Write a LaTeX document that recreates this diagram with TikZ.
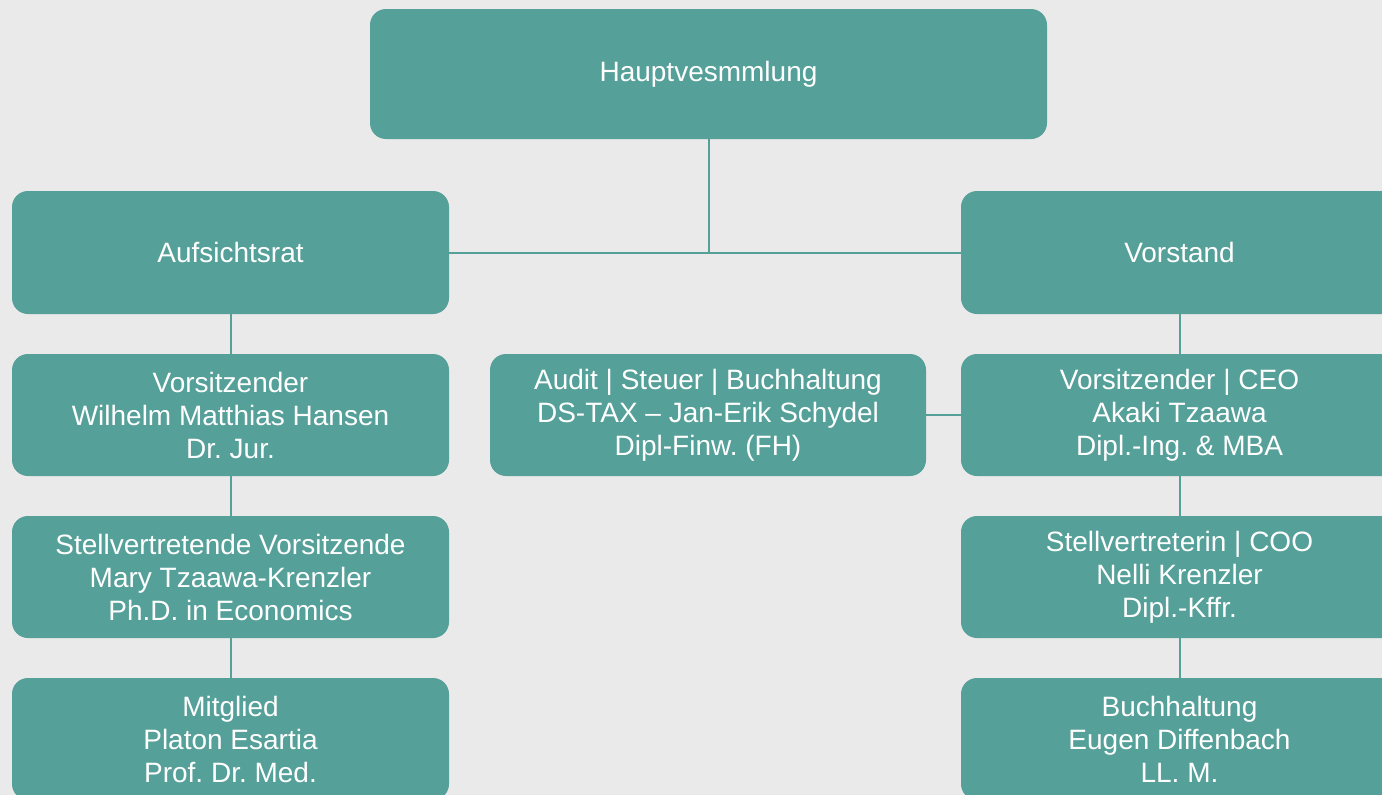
\documentclass[tikz,border=0pt]{standalone}
\usepackage{fontspec}
\setmainfont{Liberation Sans}
\frenchspacing
\definecolor{orgteal}{RGB}{85,160,153}
\definecolor{orgbg}{RGB}{234,234,234}

\begin{document}
\begin{tikzpicture}[x=1pt,y=-1pt,
    box/.style={fill=orgteal, rounded corners=16pt, text=white, align=center,
      minimum width=437pt, minimum height=122pt, inner sep=0pt,
      font=\fontsize{28}{33}\selectfont},
    link/.style={draw=orgteal, line width=2pt}]
    \fill[orgbg] (0,0) rectangle (1382,795);
    \clip (0,0) rectangle (1382,795);
    % top
    \node[box, minimum width=677pt, minimum height=130pt] (haupt) at (708.5,74) {Hauptvesmmlung};
    \node[box, minimum height=123pt] (aufsicht) at (230.5,252.5) {Aufsichtsrat};
    \node[box, minimum height=123pt] (vorstand) at (1179.5,252.5) {Vorstand};
    % left column
    \node[box] (vorsitz) at (230.5,415) {Vorsitzender\\Wilhelm Matthias Hansen\\Dr. Jur.};
    \node[box] (stellv) at (230.5,577) {Stellvertretende Vorsitzende\\Mary Tzaawa-Krenzler\\Ph.D. in Economics};
    \node[box] (mitglied) at (230.5,739) {Mitglied\\Platon Esartia\\Prof. Dr. Med.};
    % middle
    \node[box, minimum width=436pt] (audit) at (708,415) {Audit | Steuer | Buchhaltung\\DS-TAX – Jan-Erik Schydel\\Dipl-Finw. (FH)};
    % right column
    \node[box] (ceo) at (1179.5,415) {Vorsitzender | CEO\\Akaki Tzaawa\\Dipl.-Ing. \& MBA};
    \node[box] (coo) at (1179.5,577) {Stellvertreterin | COO\\Nelli Krenzler\\Dipl.-Kffr.};
    \node[box] (buch) at (1179.5,739) {Buchhaltung\\Eugen Diffenbach\\LL. M.};
    % lines
    \draw[link] (haupt) -- (haupt |- aufsicht);
    \draw[link] (aufsicht) -- (vorstand);
    \draw[link] (aufsicht) -- (vorsitz);
    \draw[link] (vorsitz) -- (stellv);
    \draw[link] (stellv) -- (mitglied);
    \draw[link] (vorstand) -- (ceo);
    \draw[link] (ceo) -- (coo);
    \draw[link] (coo) -- (buch);
    \draw[link] (audit) -- (ceo);
\end{tikzpicture}
\end{document}
